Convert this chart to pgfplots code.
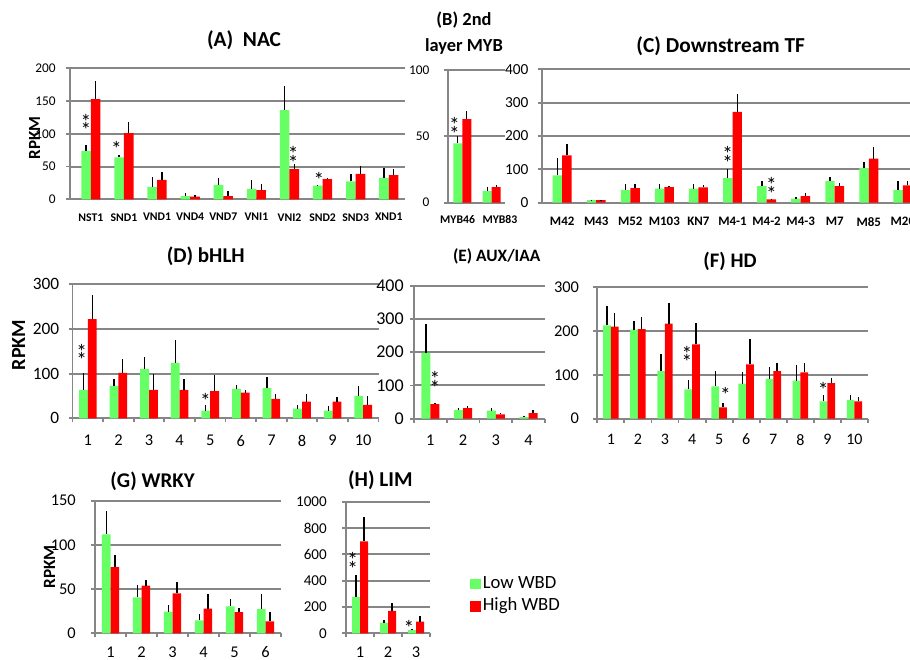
\documentclass[border=0pt]{standalone}
\usepackage{fontspec}
\setmainfont{Carlito}
\usepackage{pgfplots}
\pgfplotsset{compat=1.18}
\definecolor{lowgreen}{RGB}{102,255,102}
\definecolor{highred}{RGB}{255,0,0}
\definecolor{axisgray}{RGB}{134,134,134}
\newcommand\fsz[1]{\fontsize{#1}{#1}\selectfont}
\pgfplotsset{
  panel/.style={scale only axis, anchor=north west, ybar=0pt, ymin=0,
    axis x line*=bottom, axis y line*=left,
    axis line style={axisgray, line width=1.4pt, -},
    ymajorgrids, grid style={axisgray, line width=1.5pt},
    tick align=outside, major tick length=3pt,
    tick style={axisgray, line width=1.4pt},
    /pgf/number format/assume math mode=true,
    /pgf/number format/1000 sep={},
    scaled y ticks=false,
    clip=false,
    yticklabel style={anchor=east, inner sep=0pt},
    xticklabel style={anchor=north, inner sep=0pt},
  },
  numpanel/.style={xmin=0.5, xmax=#1+0.5, xtick={0.5,1.5,...,#1.5}, xticklabels={},
    extra x ticks={1,...,#1},
    extra x tick style={major tick length=0pt, grid=none, xtick style={draw=none}}},
  gbar/.style={fill=lowgreen, draw=none, error bars/y dir=plus, error bars/y explicit,
    error bars/error mark=none, error bars/error bar style={draw=black, line width=1pt, solid}},
  rbar/.style={fill=highred, draw=none, error bars/y dir=plus, error bars/y explicit,
    error bars/error mark=none, error bars/error bar style={draw=black, line width=1pt, solid}},
  sqlegend/.style={legend image code/.code={\fill[##1] (0pt,-4.1pt) rectangle (8.25pt,4.1pt);}},
}
\tikzset{
  s1/.style={font=\fsz{16}, inner sep=0pt, anchor=base, yshift=-8.3pt},
  ttl/.style={font=\bfseries, anchor=center, inner sep=0pt},
}
\newcommand\sstar[2]{\node[s1] at (axis cs:#1,#2) {*};}
\newcommand\dstar[2]{\node[s1,yshift=3.2pt] at (axis cs:#1,#2) {*};\node[s1,yshift=-3.2pt] at (axis cs:#1,#2) {*};}
\begin{document}
\begin{tikzpicture}
\useasboundingbox (0pt,0pt) rectangle (682.5pt,-495pt);
% titles
\node[ttl, font=\bfseries\fsz{16}] at (183pt,-30.5pt) {(A)\ \ NAC};
\node[ttl, align=center, font=\bfseries\fontsize{13.8}{19.5}\selectfont] at (348pt,-24.75pt) {(B) 2nd\\layer MYB};
\node[ttl, font=\bfseries\fsz{16}] at (540.5pt,-34.5pt) {(C) Downstream TF};
\node[ttl, font=\bfseries\fsz{15.8}] at (154.3pt,-192.5pt) {(D) bHLH};
\node[ttl, font=\bfseries\fsz{13}] at (372.5pt,-192.5pt) {(E) AUX/IAA};
\node[ttl, font=\bfseries\fsz{15.5}] at (547.5pt,-196.3pt) {(F) HD};
\node[ttl, font=\bfseries\fsz{15.7}] at (114.4pt,-361.3pt) {(G) WRKY};
\node[ttl, font=\bfseries\fsz{15.9}] at (285.2pt,-360.5pt) {(H) LIM};
% (A) NAC
\begin{axis}[panel, at={(52.5pt,-51.23pt)}, width=251.25pt, height=98.25pt,
  xmin=-0.63, xmax=9.49, ymax=200, ytick={0,50,...,200},
  xtick={0,...,9}, xticklabels={NST1,SND1,VND1,VND4,VND7,VNI1,VNI2,SND2,SND3,XND1},
  xtick style={draw=none}, bar width=7.2pt,
  yticklabel style={font=\fsz{10}, xshift=-7.5pt},
  xticklabel style={font=\bfseries\fsz{8.8}, yshift=-7.3pt},
  ylabel={RPKM}, ylabel style={font=\bfseries\fsz{12.75}, at={(axis description cs:-0.106,0.47)}, anchor=center}]
\addplot[gbar] coordinates {(0,74) +- (0,9.5) (1,64) +- (0,3) (2,19) +- (0,15) (3,5) +- (0,4.7) (4,22) +- (0,10.6)
  (5,16) +- (0,14) (6,136) +- (0,37) (7,21) +- (0,0.5) (8,27.5) +- (0,11.2) (9,32.6) +- (0,14.7)};
\addplot[rbar] coordinates {(0,153) +- (0,27) (1,101) +- (0,16.5) (2,29.5) +- (0,12.5) (3,4) +- (0,2.6) (4,5) +- (0,7)
  (5,14) +- (0,10) (6,46) +- (0,8) (7,31) +- (0,1.6) (8,38.7) +- (0,12.3) (9,37) +- (0,9)};
\dstar{-0.15}{117.5}
\sstar{0.776}{82}
\dstar{6.11}{67.6}
\sstar{6.89}{34.5}
\end{axis}
% (B) 2nd layer MYB
\begin{axis}[panel, at={(335.7pt,-52.5pt)}, width=42.98pt, height=99.53pt,
  xmin=-0.5, xmax=1.45, ymax=100, ytick={0,50,100},
  xtick={-0.16,1.28}, xticklabels={MYB46,MYB83}, xtick style={draw=none}, bar width=6.75pt,
  yticklabel style={font=\fsz{10}, xshift=-10.5pt},
  xticklabel style={font=\bfseries\fsz{8.8}, yshift=-6.4pt}]
\addplot[gbar] coordinates {(0,44.7) +- (0,5.8) (1,8.8) +- (0,3.2)};
\addplot[rbar] coordinates {(0,63) +- (0,6) (1,11.8) +- (0,1.8)};
\dstar{-0.27}{57.8}
\end{axis}
% (C) Downstream TF
\begin{axis}[panel, at={(406.28pt,-51.98pt)}, width=286.2pt, height=100.05pt,
  xmin=-0.6, xmax=10.6, ymax=400, ytick={0,100,...,400},
  xtick={0,...,10}, xticklabels={M42,M43,M52,M103,KN7,M4-1,M4-2,M4-3,M7,M85,M20},
  xtick style={draw=none}, bar width=7.1pt,
  yticklabel style={font=\fsz{11.5}, xshift=-6.75pt},
  xticklabel style={font=\bfseries\fsz{9.7}, yshift=-7.6pt}]
\addplot[gbar] coordinates {(0,82) +- (0,52) (1,8) +- (0,1) (2,38) +- (0,19) (3,42) +- (0,14) (4,42) +- (0,14)
  (5,74) +- (0,27) (6,50) +- (0,14) (7,12) +- (0,4) (8,65) +- (0,13) (9,104) +- (0,18) (10,38) +- (0,26)};
\addplot[rbar] coordinates {(0,142) +- (0,34) (1,8) +- (0,1) (2,44) +- (0,12) (3,47) +- (0,3) (4,46) +- (0,6)
  (5,272) +- (0,53) (6,10) +- (0,2) (7,20) +- (0,10) (8,50) +- (0,9) (9,132) +- (0,34) (10,52) +- (0,12)};
\dstar{4.86}{143}
\dstar{6.146}{50}
\end{axis}
% (D) bHLH
\begin{axis}[panel, numpanel=10, at={(54.38pt,-213.23pt)}, width=229.5pt, height=100.5pt,
  ymax=300, ytick={0,100,200,300}, bar width=6.6pt,
  extra x tick labels={1,2,3,4,5,6,7,8,9,10},
  yticklabel style={font=\fsz{13}, xshift=-6.75pt},
  xticklabel style={font=\fsz{12.3}, yshift=-12.4pt},
  ylabel={RPKM}, ylabel style={font=\bfseries\fsz{15}, at={(axis description cs:-0.176,0.547)}, anchor=center}]
\addplot[gbar] coordinates {(1,63.4) +- (0,37.3) (2,72.4) +- (0,14.6) (3,110) +- (0,26.6) (4,124) +- (0,51) (5,17) +- (0,13.6)
  (6,65.7) +- (0,8.9) (7,68) +- (0,23.8) (8,21.6) +- (0,8.3) (9,17) +- (0,10.6) (10,50) +- (0,22.4)};
\addplot[rbar] coordinates {(1,222) +- (0,53) (2,101.5) +- (0,30.5) (3,63.4) +- (0,35) (4,63.4) +- (0,24.6) (5,61) +- (0,36.8)
  (6,57.5) +- (0,5.2) (7,43.3) +- (0,11.2) (8,37.3) +- (0,16.4) (9,37.3) +- (0,9.7) (10,29.9) +- (0,19.4)};
\dstar{0.804}{147.8}
\sstar{4.846}{46}
\end{axis}
% (E) AUX/IAA
\begin{axis}[panel, numpanel=4, at={(310.5pt,-214.28pt)}, width=98.25pt, height=99.75pt,
  ymax=400, ytick={0,100,...,400}, bar width=6.8pt,
  extra x tick labels={1,2,3,4},
  yticklabel style={font=\fsz{13.5}, xshift=-4.5pt},
  xticklabel style={font=\fsz{12.3}, yshift=-12pt}]
\addplot[gbar] coordinates {(1,198) +- (0,88) (2,26) +- (0,6) (3,24) +- (0,7) (4,5) +- (0,2)};
\addplot[rbar] coordinates {(1,44) +- (0,4) (2,32) +- (0,5) (3,13) +- (0,3) (4,17) +- (0,10)};
\dstar{1.141}{117}
\end{axis}
% (F) HD
\begin{axis}[panel, numpanel=10, at={(447.98pt,-215.25pt)}, width=203.03pt, height=98.78pt,
  ymax=300, ytick={0,100,200,300}, bar width=5.8pt,
  extra x tick labels={1,2,3,4,5,6,7,8,9,10},
  yticklabel style={font=\fsz{12.3}, xshift=-10.5pt},
  xticklabel style={font=\fsz{12}, yshift=-11.4pt}]
\addplot[gbar] coordinates {(1,212.6) +- (0,44) (2,202.7) +- (0,19) (3,108.6) +- (0,38) (4,66.8) +- (0,20.5) (5,73.7) +- (0,34)
  (6,79.7) +- (0,25.8) (7,91) +- (0,27.5) (8,86.6) +- (0,36.4) (9,39.5) +- (0,13.5) (10,42.5) +- (0,12.2)};
\addplot[rbar] coordinates {(1,210) +- (0,30) (2,204) +- (0,28) (3,216.4) +- (0,47) (4,169.3) +- (0,48.7) (5,25.8) +- (0,10.6)
  (6,123.8) +- (0,57) (7,108.6) +- (0,17.4) (8,105.5) +- (0,21.3) (9,81.2) +- (0,11.4) (10,39.5) +- (0,9.1)};
\dstar{3.81}{146.7}
\sstar{5.23}{61.5}
\sstar{8.84}{74.5}
\end{axis}
% (G) WRKY
\begin{axis}[panel, numpanel=6, at={(71.25pt,-375.53pt)}, width=139.5pt, height=99.45pt,
  ymax=150, ytick={0,50,100,150}, bar width=6.5pt,
  extra x tick labels={1,2,3,4,5,6},
  yticklabel style={font=\fsz{12.3}, xshift=-11.25pt},
  xticklabel style={font=\fsz{12.3}, yshift=-10pt},
  ylabel={RPKM}, ylabel style={font=\bfseries\fsz{12.9}, at={(axis description cs:-0.244,0.502)}, anchor=center}]
\addplot[gbar] coordinates {(1,112) +- (0,26.3) (2,40.7) +- (0,14.3) (3,24.5) +- (0,7.2) (4,14.7) +- (0,6.8) (5,30.5) +- (0,7.9) (6,27.5) +- (0,17)};
\addplot[rbar] coordinates {(1,75) +- (0,13.2) (2,53.9) +- (0,6.4) (3,45.2) +- (0,13.2) (4,27.9) +- (0,16.1) (5,24.1) +- (0,4.5) (6,13.6) +- (0,10.5)};
\end{axis}
% (H) LIM
\begin{axis}[panel, numpanel=3, at={(259.5pt,-376.28pt)}, width=63pt, height=98.7pt,
  ymax=1000, ytick={0,200,...,1000}, bar width=6pt,
  extra x tick labels={1,2,3},
  yticklabel style={font=\fsz{11.3}, xshift=-11.25pt},
  xticklabel style={font=\fsz{12.3}, yshift=-10pt},
  legend style={at={(1.476,0.29)}, anchor=west, draw=none, fill=none, font=\fsz{14},
    row sep=2pt, inner sep=0pt, cells={anchor=west},
    nodes={inner sep=1.2pt, text height=9.5pt, text depth=2.8pt}}]
\addplot[gbar, sqlegend] coordinates {(1,276) +- (0,167) (2,81) +- (0,20) (3,25) +- (0,10)};
\addplot[rbar, sqlegend] coordinates {(1,699) +- (0,185) (2,170) +- (0,58) (3,89) +- (0,40)};
\legend{Low WBD, High WBD}
\dstar{0.74}{549}
\sstar{2.75}{71}
\end{axis}
\end{tikzpicture}
\end{document}
